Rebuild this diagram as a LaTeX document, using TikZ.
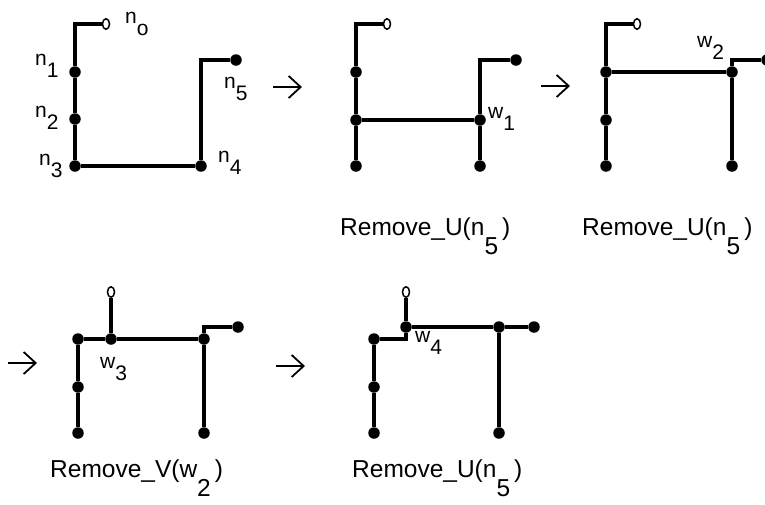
\documentclass[tikz,border=0pt]{standalone}
\usepackage{fontspec}
\setmainfont{Liberation Sans}
\usetikzlibrary{shapes.geometric,arrows.meta}
\newcommand{\sbl}[2]{#1\raisebox{-12pt}{#2}}
\newcommand{\rml}[2]{#1\raisebox{-19pt}{#2}\,)}
\begin{document}
\begin{tikzpicture}[x=1pt,y=-1pt,
 dot/.style={circle,fill=black,inner sep=0pt,minimum size=11.5pt},
 opn/.style={ellipse,draw=black,line width=1.5pt,fill=white,inner sep=0pt,minimum width=7pt,minimum height=10.5pt},
 wire/.style={line width=3.4pt},
 lbl/.style={anchor=base west,inner sep=0pt,font=\fontsize{21}{25}\selectfont},
 captxt/.style={anchor=base west,inner sep=0pt,font=\fontsize{24.5}{28}\selectfont},
 stepar/.style={line width=1.8pt,-{Straight Barb[length=12pt,width=22pt,line width=1.8pt]}}
]
\useasboundingbox (0,0) rectangle (765,504);

% Panel 1
\node[opn] (p1o) at (106,24) {};
\coordinate (p1c0) at (75,24);
\node[dot] (p1n1) at (75,72) {};
\node[dot] (p1n2) at (75,119) {};
\node[dot] (p1n3) at (75,166) {};
\node[dot] (p1n4) at (201,166) {};
\coordinate (p1c5) at (201,60);
\node[dot] (p1n5) at (236,60) {};
\draw[wire] (p1o) -- (p1c0) -- (p1n1) -- (p1n2) -- (p1n3) -- (p1n4) -- (p1c5) -- (p1n5);
\node[lbl] (l1o) at (125,23) {\sbl{n}{o}};
\node[lbl] (l11) at (35,65) {\sbl{n}{1}};
\node[lbl] (l12) at (35,117) {\sbl{n}{2}};
\node[lbl] (l13) at (39,165) {\sbl{n}{3}};
\node[lbl] (l14) at (218,162) {\sbl{n}{4}};
\node[lbl] (l15) at (224,88) {\sbl{n}{5}};

% Panel 2
\node[opn] (p2o) at (387,24) {};
\coordinate (p2c0) at (356,24);
\node[dot] (p2a) at (356,72) {};
\node[dot] (p2b) at (356,120) {};
\node[dot] (p2c) at (356,166) {};
\node[dot] (p2w) at (480,120) {};
\node[dot] (p2d) at (480,166) {};
\coordinate (p2c5) at (480,60);
\node[dot] (p2e) at (516,60) {};
\draw[wire] (p2o) -- (p2c0) -- (p2a) -- (p2b) -- (p2c);
\draw[wire] (p2b) -- (p2w);
\draw[wire] (p2d) -- (p2w) -- (p2c5) -- (p2e);
\node[lbl] (l2w) at (488,118) {\sbl{w}{1}};

% Panel 3
\node[opn] (p3o) at (637,24) {};
\coordinate (p3c0) at (606,24);
\node[dot] (p3a) at (606,72) {};
\node[dot] (p3b) at (606,120) {};
\node[dot] (p3c) at (606,166) {};
\node[dot] (p3w) at (732,72) {};
\node[dot] (p3d) at (732,166) {};
\coordinate (p3c5) at (732,60);
\node[dot] (p3e) at (767,60) {};
\draw[wire] (p3o) -- (p3c0) -- (p3a) -- (p3b) -- (p3c);
\draw[wire] (p3a) -- (p3w);
\draw[wire] (p3d) -- (p3w) -- (p3c5) -- (p3e);
\node[lbl] (l3w) at (697,47) {\sbl{w}{2}};

% Panel 4
\node[opn] (p4o) at (111,292) {};
\node[dot] (p4w) at (111,339) {};
\node[dot] (p4a) at (78,339) {};
\node[dot] (p4b) at (78,387) {};
\node[dot] (p4c) at (78,433) {};
\node[dot] (p4r) at (204,339) {};
\node[dot] (p4d) at (204,433) {};
\coordinate (p4c5) at (204,327);
\node[dot] (p4e) at (238,327) {};
\draw[wire] (p4o) -- (p4w);
\draw[wire] (p4a) -- (p4w) -- (p4r);
\draw[wire] (p4a) -- (p4b) -- (p4c);
\draw[wire] (p4d) -- (p4r) -- (p4c5) -- (p4e);
\node[lbl] (l4w) at (100,368) {\sbl{w}{3}};

% Panel 5
\node[opn] (p5o) at (406,292) {};
\node[dot] (p5w) at (406,327) {};
\node[dot] (p5r) at (499,327) {};
\node[dot] (p5e) at (534,327) {};
\coordinate (p5c0) at (406,339);
\node[dot] (p5a) at (374,339) {};
\node[dot] (p5b) at (374,387) {};
\node[dot] (p5c) at (374,433) {};
\node[dot] (p5d) at (499,433) {};
\draw[wire] (p5o) -- (p5w) -- (p5r) -- (p5e);
\draw[wire] (p5w) -- (p5c0) -- (p5a) -- (p5b) -- (p5c);
\draw[wire] (p5r) -- (p5d);
\node[lbl] (l5w) at (415,342) {\sbl{w}{4}};

% Arrows
\coordinate (a1s) at (273,87); \coordinate (a1e) at (302,87);
\coordinate (a2s) at (541,86); \coordinate (a2e) at (570,86);
\coordinate (a3s) at (8,363); \coordinate (a3e) at (37,363);
\coordinate (a4s) at (276,366); \coordinate (a4e) at (305,366);
\draw[stepar] (a1s) -- (a1e);
\draw[stepar] (a2s) -- (a2e);
\draw[stepar] (a3s) -- (a3e);
\draw[stepar] (a4s) -- (a4e);

% Captions
\node[captxt] (c1) at (340,235) {\rml{Remove\_U(n}{5}};
\node[captxt] (c2) at (582,235) {\rml{Remove\_U(n}{5}};
\node[captxt] (c3) at (50,477) {\rml{Remove\_V(w}{2}};
\node[captxt] (c4) at (352,477) {\rml{Remove\_U(n}{5}};
\end{tikzpicture}
\end{document}
